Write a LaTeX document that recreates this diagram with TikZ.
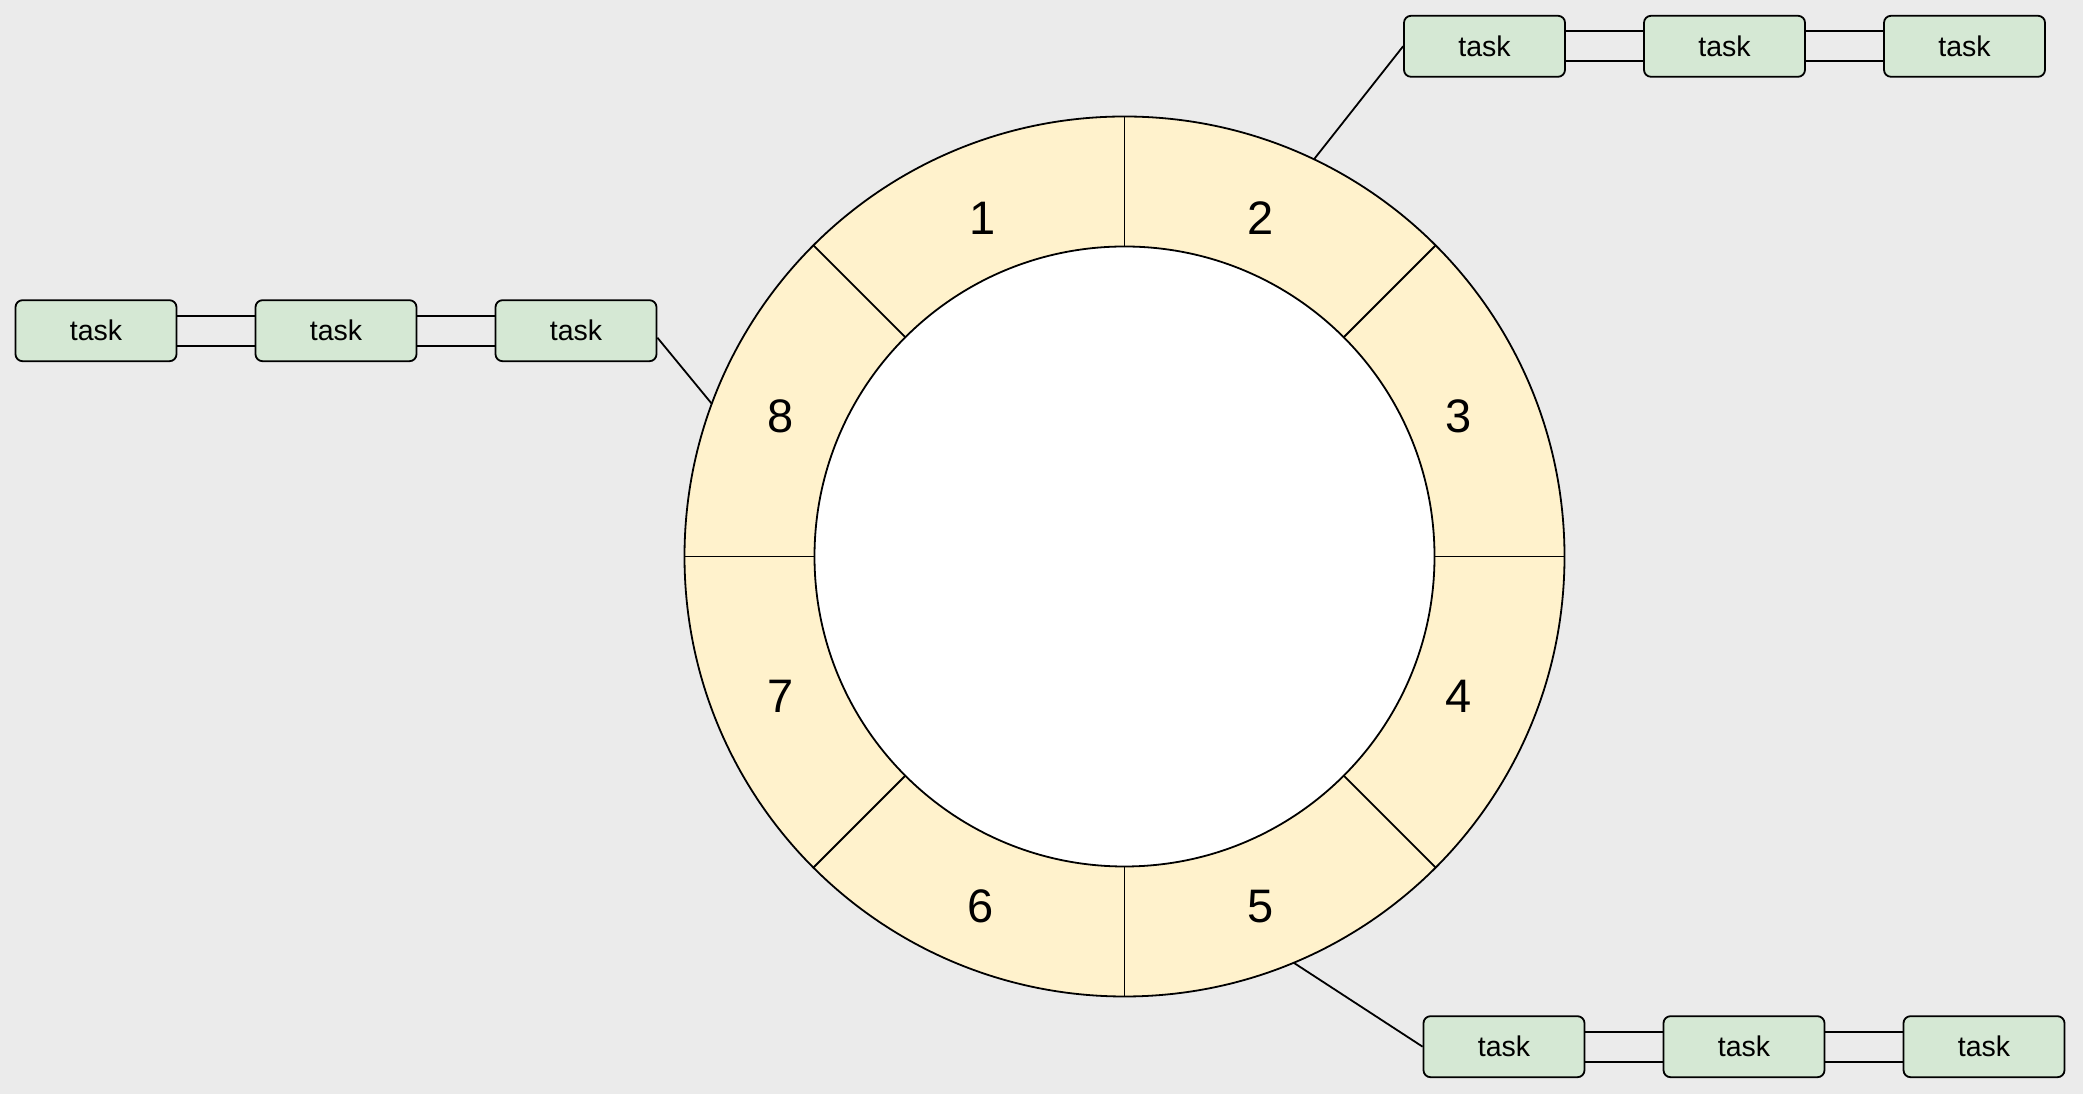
\documentclass[tikz,border=0pt]{standalone}
\usepackage{fontspec}
\setmainfont{Liberation Sans}
\usetikzlibrary{calc}
\definecolor{bg}{HTML}{EBEBEB}
\definecolor{seg}{HTML}{FFF2CC}
\definecolor{taskfill}{HTML}{D5E8D4}
\tikzset{
  taskbox/.style={draw=black, line width=1.8pt, fill=taskfill, rounded corners=7pt,
    minimum width=161pt, minimum height=61pt, inner sep=0pt,
    font=\fontsize{28.5}{30}\selectfont},
  link/.style={draw=black, line width=1.8pt},
  numlabel/.style={font=\fontsize{47}{50}\selectfont, inner sep=0pt}
}
\begin{document}
\begin{tikzpicture}[x=1pt,y=1pt]
\useasboundingbox (0,0) rectangle (2083,1094);
\fill[bg] (0,0) rectangle (2083,1094);
\coordinate (c) at (1124.5,537.5);
% ring
\fill[seg, even odd rule] (c) circle[radius=440] (c) circle[radius=310];
\draw[line width=1.8pt, fill=white] (c) circle[radius=310];
\draw[line width=1.8pt] (c) circle[radius=440];
\foreach \a in {0,45,...,315} {
  \draw[line width=1.8pt] ($(c)+(\a:310)$) -- ($(c)+(\a:440)$);
}
% labels
\foreach \n/\dx/\dy in {1/-142/338.5,2/136.5/338.5,3/334/140,4/334/-140,5/136.5/-350,6/-143.5/-350,7/-343.5/-140,8/-343.5/140} {
  \node[numlabel] (n\n) at ($(c)+(\dx,\dy)$) {\n};
}
% connector anchors on ring
\coordinate (p2) at ($(c)+(64.5:440)$);
\coordinate (p8) at ($(c)+(159.7:440)$);
\coordinate (p5) at ($(c)+(-67.4:440)$);
% top row
\node[taskbox] (t1) at (1484.5,1047.7) {task};
\node[taskbox] (t2) at (1724.5,1047.7) {task};
\node[taskbox] (t3) at (1964.5,1047.7) {task};
% left row
\node[taskbox] (l1) at (96,763.3) {task};
\node[taskbox] (l2) at (336,763.3) {task};
\node[taskbox] (l3) at (576,763.3) {task};
% bottom row
\node[taskbox] (b1) at (1504,47.3) {task};
\node[taskbox] (b2) at (1744,47.3) {task};
\node[taskbox] (b3) at (1984,47.3) {task};
% double links
\foreach \u/\v in {t1/t2,t2/t3,l1/l2,l2/l3,b1/b2,b2/b3} {
  \draw[link] ([yshift=15pt]\u.east) -- ([yshift=15pt]\v.west);
  \draw[link] ([yshift=-15pt]\u.east) -- ([yshift=-15pt]\v.west);
}
% connectors to ring
\draw[link] (p2) -- (t1.west);
\draw[link] ([yshift=-7pt]l3.east) -- (p8);
\draw[link] (p5) -- (b1.west);
\end{tikzpicture}
\end{document}
